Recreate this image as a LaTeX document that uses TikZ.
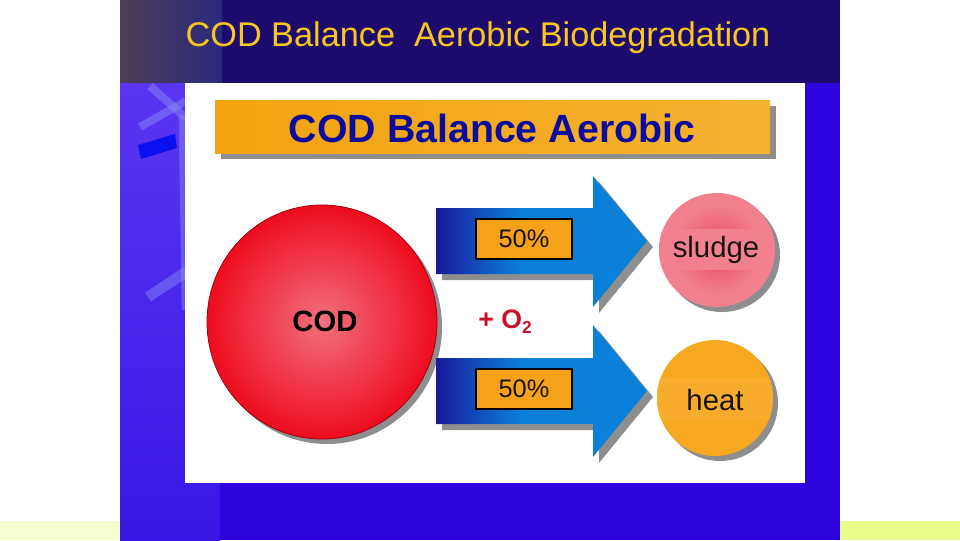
\documentclass[tikz,border=0pt]{standalone}
\usepackage{fontspec}
\setmainfont{Liberation Sans}
\usetikzlibrary{shapes.geometric}
\definecolor{topnavy}{HTML}{1C0A6C}
\definecolor{slideblue}{HTML}{2E04DC}
\definecolor{colTop}{HTML}{5A36F2}
\definecolor{colBot}{HTML}{3A16E4}
\definecolor{cornerA}{HTML}{4E3E52}
\definecolor{cornerB}{HTML}{2A2A7E}
\definecolor{titleyellow}{HTML}{F8C620}
\definecolor{barorange}{HTML}{F2A30E}
\definecolor{barorangeR}{HTML}{F5B232}
\definecolor{navytext}{HTML}{0C0C9C}
\definecolor{shadowgrey}{HTML}{8E8E8E}
\definecolor{codpink}{HTML}{F2707E}
\definecolor{codred}{HTML}{EE0C1E}
\definecolor{codrim}{HTML}{A00010}
\definecolor{arrdark}{HTML}{1A1A9C}
\definecolor{arrblue}{HTML}{0A80D8}
\definecolor{boxorange}{HTML}{F5A21A}
\definecolor{textdark}{HTML}{1A1410}
\definecolor{o2red}{HTML}{C8102A}
\definecolor{sludgepink}{HTML}{F2808F}
\definecolor{sludgered}{HTML}{EC4A62}
\definecolor{heatorange}{HTML}{F6A821}
\definecolor{heatlight}{HTML}{F7AC2C}
\definecolor{stripL}{HTML}{F4FCD0}
\definecolor{stripR}{HTML}{E9FC8C}
\definecolor{decoblue}{HTML}{0A10F0}
\definecolor{decofaint}{HTML}{8C8EF8}
\pgfdeclarehorizontalshading{arrowshade}{100bp}{color(0bp)=(arrdark); color(25bp)=(arrdark); color(45bp)=(arrblue); color(100bp)=(arrblue)}
\tikzset{
  shadowfill/.style={fill=shadowgrey},
  pctbox/.style={draw=black, line width=1.5, fill=boxorange, minimum width=72pt, minimum height=30pt, inner sep=0pt, font=\fontsize{19}{22}\selectfont, text=textdark},
  bigarrow/.style={shading=arrowshade},
  deco/.style={decofaint, opacity=0.45, line width=6},
  labeltext/.style={font=\fontsize{22}{26}\selectfont, text=textdark}
}
\begin{document}
\begin{tikzpicture}[x=0.75pt,y=-0.75pt]
\useasboundingbox (0,0) rectangle (960,540);
\fill[white] (0,0) rectangle (960,540);
% bottom strips
\fill[stripL] (0,521) rectangle (120,540);
\fill[stripR] (840,521) rectangle (960,540);
% slide background
\fill[slideblue] (120,0) rectangle (840,540);
\fill[topnavy] (120,0) rectangle (840,83);
\shade[left color=cornerA, right color=cornerB] (120,0) rectangle (222,83);
\shade[top color=colTop, bottom color=colBot] (120,83) rectangle (220,540);
% decorations in left column
\draw[deco] (150,86) -- (186,118);
\draw[deco] (140,127) -- (186,101);
\draw[deco, line width=5] (182,115) -- (185,310);
\draw[deco, line width=8] (148,297) -- (186,272);
\fill[decoblue] (138,145) -- (175,134) -- (177,148) -- (141,159) -- cycle;
% white panel
\fill[white] (185,83) rectangle (805,483);
% main title
\node[font=\fontsize{25.7}{31}\selectfont, text=titleyellow] (title) at (478,38) {COD Balance\ \ Aerobic Biodegradation};
% title bar
\fill[shadowfill] (221,106) rectangle (776,159);
\shade[left color=barorange, right color=barorangeR] (215,100) rectangle (770,153);
\node[font=\bfseries\fontsize{29.5}{34}\selectfont, text=navytext] (bartext) at (492,128) {COD Balance Aerobic};
% COD circle
\fill[shadowfill] (327,327) ellipse [x radius=115, y radius=117];
\shade[inner color=codpink, outer color=codred] (322,322) ellipse [x radius=115, y radius=117];
\draw[codrim, line width=0.6] (322,322) ellipse [x radius=115, y radius=117];
\node[font=\bfseries\fontsize{22}{26}\selectfont, text=black] (cod) at (325,321) {COD};
% upper arrow
\fill[shadowfill] (442,214) -- (599,214) -- (599,182) -- (653,247) -- (599,313) -- (599,280) -- (442,280) -- cycle;
\shade[bigarrow] (436,208) -- (593,208) -- (593,176) -- (647,241) -- (593,307) -- (593,274) -- (436,274) -- cycle;
\node[pctbox] (p1) at (524,239) {50\%};
% lower arrow
\fill[shadowfill] (442,364) -- (599,364) -- (599,331) -- (653,397) -- (599,463) -- (599,430) -- (442,430) -- cycle;
\shade[bigarrow] (436,358) -- (593,358) -- (593,325) -- (647,391) -- (593,457) -- (593,424) -- (436,424) -- cycle;
\node[pctbox] (p2) at (524,389) {50\%};
% + O2
\node[text=o2red, font=\bfseries\fontsize{20}{24}\selectfont] (o2) at (505,322) {+ O\raisebox{-0.35ex}{\fontsize{13}{14}\selectfont 2}};
% sludge
\fill[shadowfill] (722,255) ellipse [x radius=58, y radius=57];
\begin{scope}
  \clip (717,250) ellipse [x radius=58, y radius=57];
  \fill[sludgepink] (655,190) rectangle (780,310);
  \shade[inner color=sludgered, outer color=sludgepink] (717,250) ellipse [x radius=45, y radius=45];
  \fill[sludgepink] (655,229) rectangle (780,270);
\end{scope}
\node[labeltext] (sludge) at (716,250) {sludge};
% heat
\fill[shadowfill] (720,403) ellipse [x radius=58, y radius=58];
\begin{scope}
  \clip (715,398) ellipse [x radius=58, y radius=58];
  \fill[heatorange] (650,335) rectangle (780,460);
  \fill[heatlight] (650,378) rectangle (780,420);
\end{scope}
\node[labeltext] (heat) at (715,400) {heat};
\end{tikzpicture}
\end{document}
